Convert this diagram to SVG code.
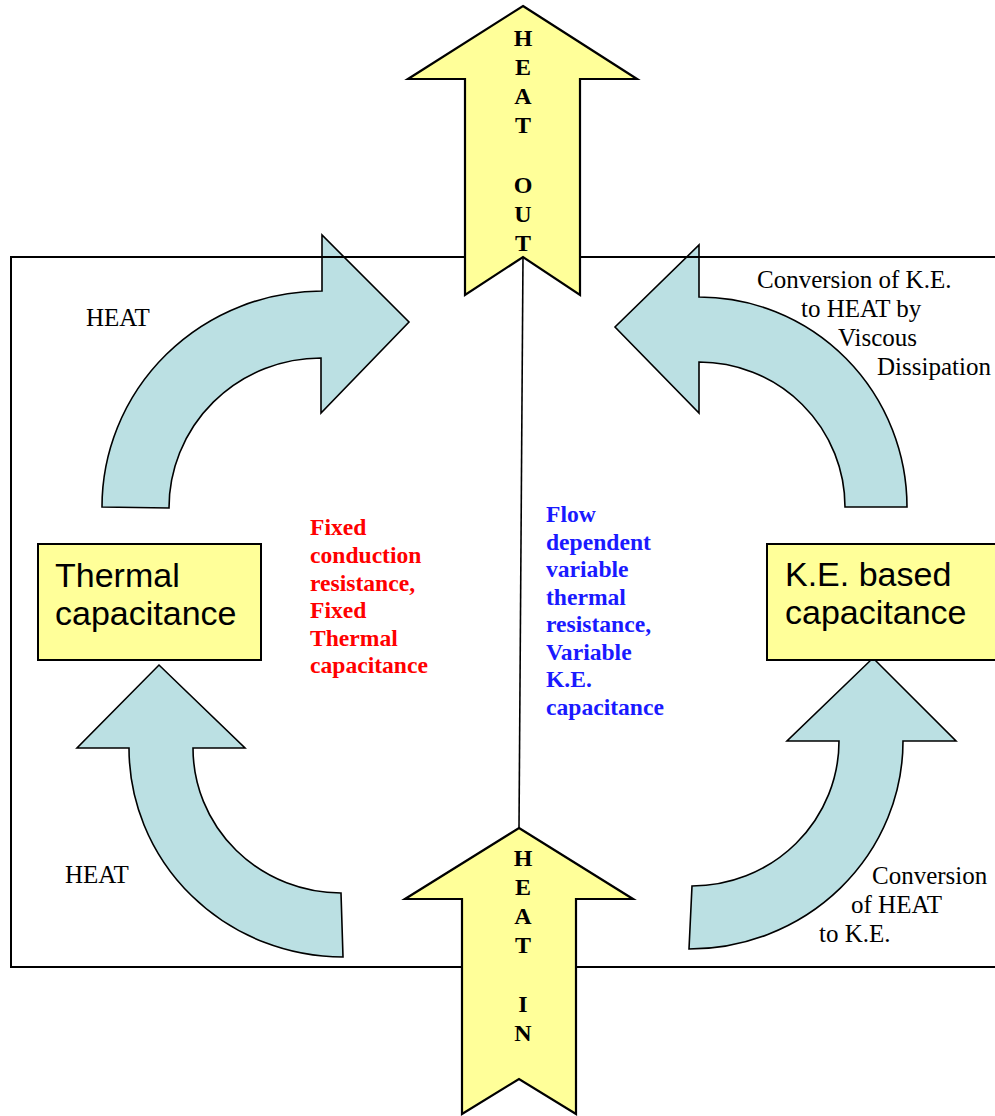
<svg xmlns="http://www.w3.org/2000/svg" width="995" height="1116" viewBox="0 0 995 1116">
<style>
.bg{fill:#ffffff}
.frame{fill:none;stroke:#000;stroke-width:2}
.yarrow{fill:#ffff99;stroke:#000;stroke-width:2.2;stroke-linejoin:miter}
.box{fill:#ffff99;stroke:#000;stroke-width:2}
.carrow{fill:#bbe0e3;stroke:#000;stroke-width:1.6;stroke-linejoin:miter}
.ln{stroke:#000;stroke-width:1.6;fill:none}
.vl{font-family:"Liberation Serif","Times New Roman",serif;font-weight:bold;font-size:24px;fill:#000;text-anchor:middle}
.bx{font-family:"Liberation Sans",Arial,sans-serif;font-size:34px;fill:#000}
.lbl{font-family:"Liberation Serif","Times New Roman",serif;font-size:25px;fill:#000}
.red{font-family:"Liberation Serif","Times New Roman",serif;font-weight:bold;font-size:23.6px;fill:#ff0000}
.blue{font-family:"Liberation Serif","Times New Roman",serif;font-weight:bold;font-size:23.6px;fill:#1a1aff}
</style>
<rect class="bg" x="0" y="0" width="995" height="1116"/>
<g id="connectors">
  <path class="carrow" d="M 102 507 A 220 216 0 0 1 322 291 L 322 235 L 409 322 L 321 413 L 321 358 A 152 150 0 0 0 169 508 Z"/>
  <path class="carrow" d="M 907 507 A 208 210 0 0 0 699 297 L 699 245 L 615 327 L 699 413 L 699 362 A 146 145 0 0 1 845 507 Z"/>
  <path class="carrow" d="M 343 957 A 214 209 0 0 1 129 748 L 77 748 L 159 665 L 245 748 L 193 748 A 148 145 0 0 0 341 893 Z"/>
  <path class="carrow" d="M 689 949 A 214 208 0 0 0 903 741 L 956 741 L 873 658 L 787 741 L 839 741 A 147 145 0 0 1 692 886 Z"/>
  <line class="ln" x1="523" y1="257" x2="519" y2="828"/>
</g>
<g id="frame">
  <rect class="frame" x="11" y="257" width="1000" height="710"/>
</g>
<g id="heat-out">
  <polygon class="yarrow" points="523,6 637,79 580,79 580,295 523,257 465,295 465,79 408,79"/>
  <text class="vl" x="523" y="46">H</text>
  <text class="vl" x="523" y="75">E</text>
  <text class="vl" x="523" y="104">A</text>
  <text class="vl" x="523" y="133">T</text>
  <text class="vl" x="523" y="193">O</text>
  <text class="vl" x="523" y="222">U</text>
  <text class="vl" x="523" y="251">T</text>
</g>
<g id="heat-in">
  <polygon class="yarrow" points="519,828 633,899 576,899 576,1114 519,1079 462,1114 462,899 405,899"/>
  <text class="vl" x="523" y="866">H</text>
  <text class="vl" x="523" y="895">E</text>
  <text class="vl" x="523" y="924">A</text>
  <text class="vl" x="523" y="953">T</text>
  <text class="vl" x="523" y="1012">I</text>
  <text class="vl" x="523" y="1041">N</text>
</g>
<g id="thermal-capacitance">
  <rect class="box" x="38" y="544" width="223" height="116"/>
  <text class="bx" x="55" y="587">Thermal</text>
  <text class="bx" x="55" y="625">capacitance</text>
</g>
<g id="ke-capacitance">
  <rect class="box" x="767" y="544" width="240" height="116"/>
  <text class="bx" x="785" y="586">K.E. based</text>
  <text class="bx" x="785" y="624">capacitance</text>
</g>
<g id="labels">
  <text class="lbl" x="86" y="326">HEAT</text>
  <text class="lbl" x="65" y="883">HEAT</text>
  <text class="lbl" x="757" y="288">Conversion of K.E.</text>
  <text class="lbl" x="801" y="317">to HEAT by</text>
  <text class="lbl" x="838" y="346">Viscous</text>
  <text class="lbl" x="877" y="375">Dissipation</text>
  <text class="lbl" x="872" y="884">Conversion</text>
  <text class="lbl" x="851" y="913">of HEAT</text>
  <text class="lbl" x="819" y="942">to K.E.</text>
</g>
<g id="fixed-text">
  <text class="red" x="310" y="535">Fixed</text>
  <text class="red" x="310" y="563">conduction</text>
  <text class="red" x="310" y="591">resistance,</text>
  <text class="red" x="310" y="618">Fixed</text>
  <text class="red" x="310" y="646">Thermal</text>
  <text class="red" x="310" y="673">capacitance</text>
</g>
<g id="variable-text">
  <text class="blue" x="546" y="522">Flow</text>
  <text class="blue" x="546" y="550">dependent</text>
  <text class="blue" x="546" y="577">variable</text>
  <text class="blue" x="546" y="605">thermal</text>
  <text class="blue" x="546" y="632">resistance,</text>
  <text class="blue" x="546" y="660">Variable</text>
  <text class="blue" x="546" y="687">K.E.</text>
  <text class="blue" x="546" y="715">capacitance</text>
</g>
</svg>
